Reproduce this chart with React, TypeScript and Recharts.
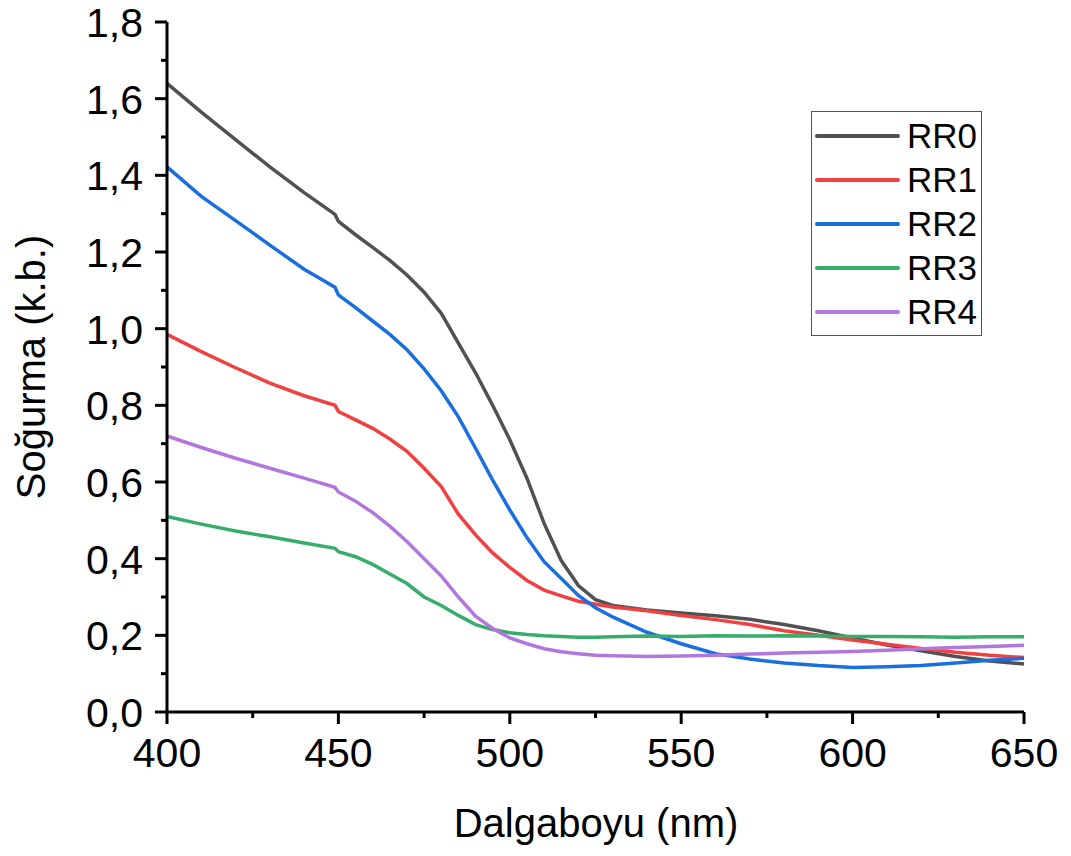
import { LineChart, Line, XAxis, YAxis } from 'recharts';

const wavelength = [400, 410, 420, 430, 440, 449, 450, 455, 460, 465, 470, 475, 480, 485, 490, 495, 500, 505, 510, 515, 520, 525, 530, 540, 550, 560, 570, 580, 590, 600, 610, 620, 630, 640, 650];

const rr0 = [1.64, 1.565, 1.493, 1.422, 1.355, 1.298, 1.28, 1.245, 1.212, 1.178, 1.14, 1.095, 1.04, 0.962, 0.885, 0.8, 0.71, 0.61, 0.492, 0.395, 0.33, 0.293, 0.278, 0.266, 0.258, 0.251, 0.242, 0.228, 0.212, 0.193, 0.175, 0.16, 0.145, 0.133, 0.125];
const rr1 = [0.985, 0.94, 0.898, 0.858, 0.825, 0.8, 0.784, 0.762, 0.74, 0.712, 0.68, 0.636, 0.588, 0.516, 0.462, 0.415, 0.377, 0.343, 0.318, 0.303, 0.289, 0.281, 0.274, 0.264, 0.252, 0.241, 0.228, 0.212, 0.2, 0.188, 0.177, 0.166, 0.156, 0.148, 0.142];
const rr2 = [1.422, 1.345, 1.282, 1.218, 1.155, 1.108, 1.088, 1.055, 1.02, 0.985, 0.945, 0.895, 0.838, 0.77, 0.688, 0.605, 0.527, 0.455, 0.392, 0.348, 0.304, 0.272, 0.248, 0.208, 0.178, 0.152, 0.138, 0.128, 0.121, 0.116, 0.118, 0.121, 0.128, 0.135, 0.14];
const rr3 = [0.51, 0.49, 0.472, 0.457, 0.441, 0.427, 0.418, 0.405, 0.385, 0.36, 0.335, 0.3, 0.278, 0.252, 0.228, 0.215, 0.207, 0.202, 0.199, 0.197, 0.195, 0.195, 0.196, 0.198, 0.197, 0.199, 0.198, 0.199, 0.198, 0.197, 0.197, 0.196, 0.195, 0.196, 0.196];
const rr4 = [0.72, 0.69, 0.662, 0.636, 0.61, 0.586, 0.574, 0.55, 0.52, 0.485, 0.445, 0.4, 0.355, 0.3, 0.25, 0.218, 0.193, 0.178, 0.165, 0.157, 0.152, 0.148, 0.147, 0.145, 0.146, 0.148, 0.151, 0.154, 0.156, 0.158, 0.161, 0.165, 0.168, 0.171, 0.174];

const xTicks = [400, 425, 450, 475, 500, 525, 550, 575, 600, 625, 650];
const xMajor = [400, 450, 500, 550, 600, 650];
const yTicks = [0, 0.1, 0.2, 0.3, 0.4, 0.5, 0.6, 0.7, 0.8, 0.9, 1.0, 1.1, 1.2, 1.3, 1.4, 1.5, 1.6, 1.7, 1.8];

const series = [
  { key: 'RR0', color: '#515151' },
  { key: 'RR1', color: '#F14040' },
  { key: 'RR2', color: '#1A6FDF' },
  { key: 'RR3', color: '#37AD6B' },
  { key: 'RR4', color: '#B177DE' },
];

const data = wavelength.map((w, i) => ({
  w,
  RR0: rr0[i],
  RR1: rr1[i],
  RR2: rr2[i],
  RR3: rr3[i],
  RR4: rr4[i],
}));

const FONT = '"Liberation Sans", Arial, sans-serif';

function XTick({ x, y, payload }: any) {
  const major = xMajor.includes(payload.value);
  return (
    <g>
      <line x1={x} x2={x} y1={y} y2={y + (major ? 12 : 6)} stroke="#000" strokeWidth={3} />
      {major && (
        <text x={x} y={y + 55} textAnchor="middle" fontSize={41} fontFamily={FONT} fill="#000">
          {payload.value}
        </text>
      )}
    </g>
  );
}

function YTick({ x, y, payload }: any) {
  const major = Math.round(payload.value * 10) % 2 === 0;
  return (
    <g>
      <line x1={x - (major ? 12 : 6)} x2={x} y1={y} y2={y} stroke="#000" strokeWidth={3} />
      {major && (
        <text x={x - 24} y={y + 15} textAnchor="end" fontSize={41} fontFamily={FONT} fill="#000">
          {payload.value.toFixed(1).replace('.', ',')}
        </text>
      )}
    </g>
  );
}

function LegendBox() {
  return (
    <div style={{ position: 'absolute', left: 811, top: 111, width: 171, height: 225, border: '1.5px solid #555', background: '#fff', boxSizing: 'border-box', paddingTop: 2 }}>
      {series.map(s => (
        <div key={s.key} style={{ display: 'flex', alignItems: 'center', height: 44 }}>
          <svg width={92} height={10}>
            <line x1={5} x2={86} y1={5} y2={5} stroke={s.color} strokeWidth={4} strokeLinecap="round" />
          </svg>
          <span style={{ fontFamily: FONT, fontSize: 35, color: '#000', marginLeft: 3, lineHeight: '44px' }}>{s.key}</span>
        </div>
      ))}
    </div>
  );
}

export default function App() {
  return (
    <div style={{ position: 'absolute', left: 0, top: 0, width: 1071, height: 856, background: '#fff' }}>
      <LineChart width={1071} height={856} data={data} margin={{ top: 22, right: 47, bottom: 44, left: 67 }}>
        <XAxis
          dataKey="w"
          type="number"
          domain={[400, 650]}
          ticks={xTicks}
          interval={0}
          height={100}
          tickSize={0}
          tickMargin={0}
          tickLine={false}
          axisLine={{ stroke: '#000', strokeWidth: 3 }}
          tick={<XTick />}
          label={{
            content: () => (
              <text x={596} y={837} textAnchor="middle" fontSize={40} fontFamily={FONT} fill="#000">
                Dalgaboyu (nm)
              </text>
            ),
          }}
        />
        <YAxis
          type="number"
          domain={[0, 1.8]}
          ticks={yTicks}
          interval={0}
          width={100}
          tickSize={0}
          tickMargin={0}
          tickLine={false}
          axisLine={{ stroke: '#000', strokeWidth: 3 }}
          tick={<YTick />}
          label={{
            content: () => (
              <text x={45} y={367} transform="rotate(-90 45 367)" textAnchor="middle" fontSize={40} fontFamily={FONT} fill="#000">
                Soğurma (k.b.)
              </text>
            ),
          }}
        />
        {series.map(s => (
          <Line
            key={s.key}
            dataKey={s.key}
            stroke={s.color}
            strokeWidth={3.5}
            dot={false}
            activeDot={false}
            type="linear"
            isAnimationActive={false}
          />
        ))}
      </LineChart>
      <LegendBox />
    </div>
  );
}
